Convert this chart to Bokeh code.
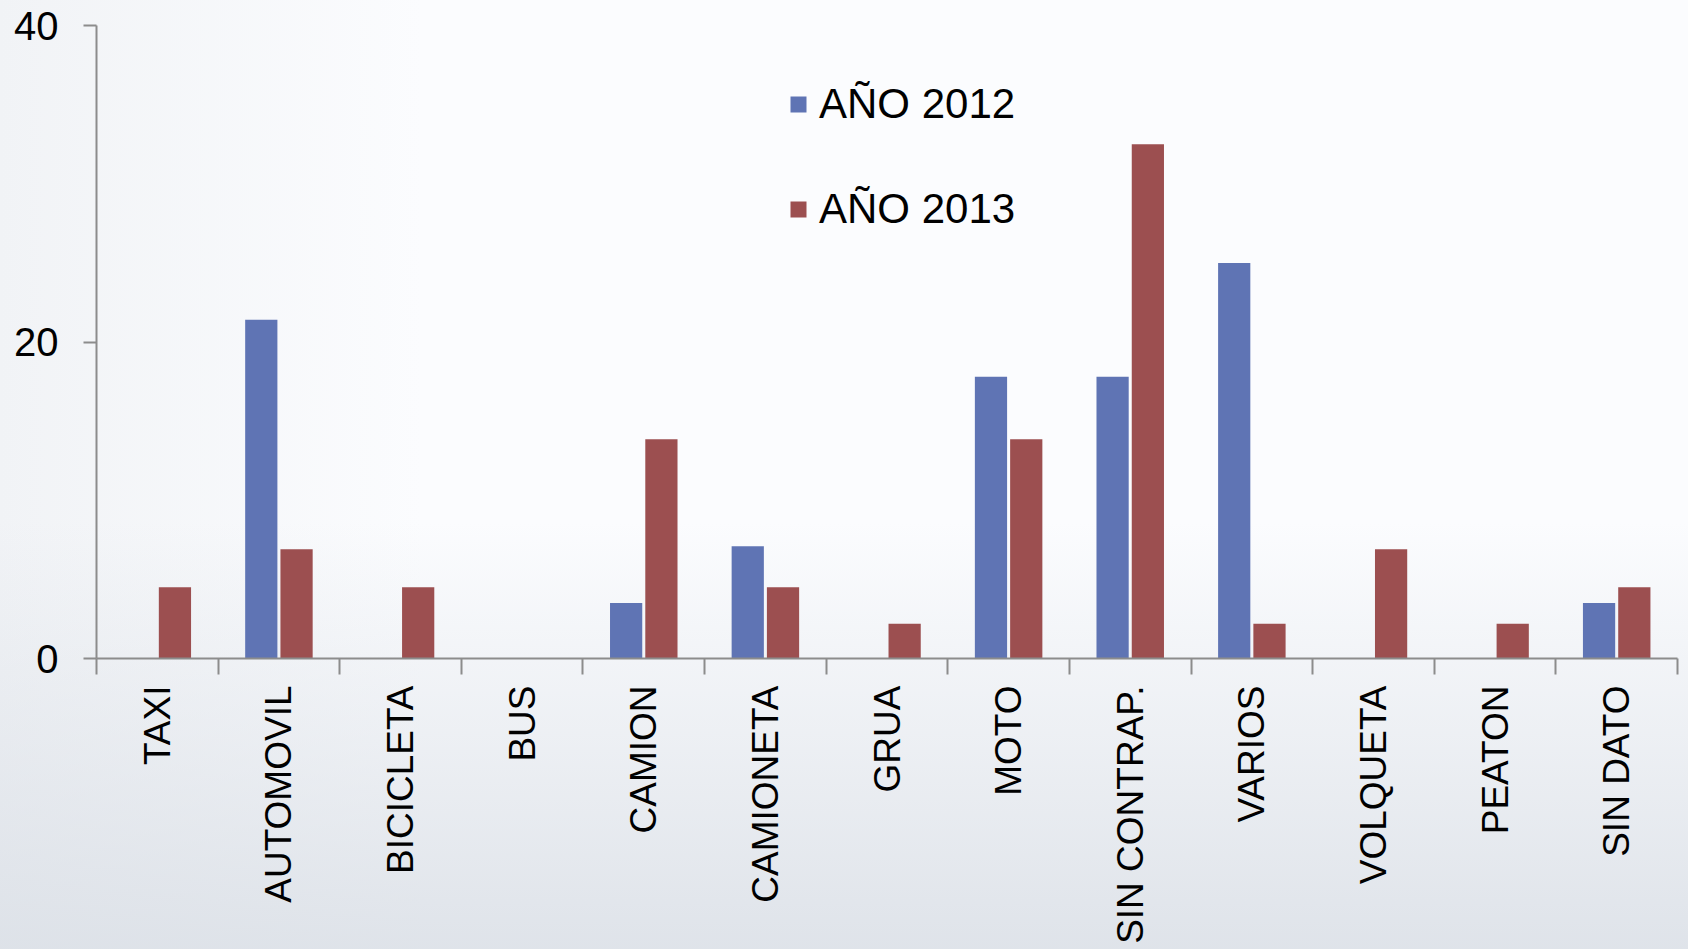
import math
from bokeh.plotting import figure
from bokeh.models import ColumnDataSource, Range1d, FixedTicker, Legend, LegendItem
from bokeh.embed import file_html
from bokeh.resources import INLINE

categories = ["TAXI", "AUTOMOVIL", "BICICLETA", "BUS", "CAMION", "CAMIONETA", "GRUA",
              "MOTO", "SIN CONTRAP.", "VARIOS", "VOLQUETA", "PEATON", "SIN DATO"]
anio_2012 = [0, 21.4, 0, 0, 3.5, 7.1, 0, 17.8, 17.8, 25.0, 0, 0, 3.5]
anio_2013 = [4.5, 6.9, 4.5, 0, 13.85, 4.5, 2.2, 13.85, 32.5, 2.2, 6.9, 2.2, 4.5]
y_ticks = [0, 20, 40]

BLUE = "#5f74b4"
RED = "#9c4f50"
AXIS = "#8c8c8c"
FONT = "Liberation Sans"

n = len(categories)
centers = [i + 0.5 for i in range(n)]
offset = 0.145
bar_w = 0.265

src = ColumnDataSource(dict(
    x12=[c - offset for c in centers],
    x13=[c + offset for c in centers],
    y12=anio_2012,
    y13=anio_2013,
))

p = figure(width=1688, height=949, output_backend="svg", toolbar_location=None,
           x_range=Range1d(0, n), y_range=Range1d(0, 40),
           min_border_left=96, min_border_right=11, min_border_top=25, min_border_bottom=291)

p.background_fill_alpha = 0
p.border_fill_alpha = 0
p.outline_line_color = None
p.styles = {"background-image":
            "linear-gradient(to bottom, rgba(218,223,230,0) 55%, rgba(218,223,230,0.85) 100%), "
            "linear-gradient(to right, #f1f3f6 0%, #fbfcfe 25%)"}

r12 = p.vbar(x="x12", top="y12", width=bar_w, source=src, fill_color=BLUE, line_color=None)
r13 = p.vbar(x="x13", top="y13", width=bar_w, source=src, fill_color=RED, line_color=None)

p.xgrid.visible = False
p.ygrid.visible = False

# x axis: labels at centers, tick marks at category boundaries
xa = p.xaxis[0]
xa.ticker = FixedTicker(ticks=centers, minor_ticks=list(range(n + 1)))
xa.major_label_overrides = {c: categories[i] for i, c in enumerate(centers)}
xa.major_label_orientation = math.pi / 2
xa.major_tick_line_color = None
xa.major_tick_out = 16
xa.major_tick_in = 0
xa.minor_tick_line_color = AXIS
xa.minor_tick_line_width = 2
xa.minor_tick_out = 16
xa.minor_tick_in = 0
xa.axis_line_color = AXIS
xa.axis_line_width = 2
xa.major_label_standoff = 11
xa.major_label_text_font = FONT
xa.major_label_text_font_size = "37px"
xa.major_label_text_color = "black"

ya = p.yaxis[0]
ya.ticker = FixedTicker(ticks=y_ticks)
ya.minor_tick_line_color = None
ya.major_tick_line_color = AXIS
ya.major_tick_line_width = 2
ya.major_tick_out = 13
ya.major_tick_in = 0
ya.axis_line_color = AXIS
ya.axis_line_width = 2
ya.major_label_standoff = 25
ya.major_label_text_font = FONT
ya.major_label_text_font_size = "40px"
ya.major_label_text_color = "black"

legend = Legend(items=[LegendItem(label="AÑO 2012", renderers=[r12]),
                       LegendItem(label="AÑO 2013", renderers=[r13])],
                location=(692, 424))
legend.glyph_width = 20
legend.glyph_height = 20
legend.label_height = 50
legend.spacing = 55
legend.padding = 0
legend.margin = 0
legend.label_standoff = 11
legend.label_text_font = FONT
legend.label_text_font_size = "42px"
legend.label_text_color = "black"
legend.border_line_color = None
legend.background_fill_alpha = 0
p.add_layout(legend)

open("out.html", "w").write(file_html(p, INLINE))
